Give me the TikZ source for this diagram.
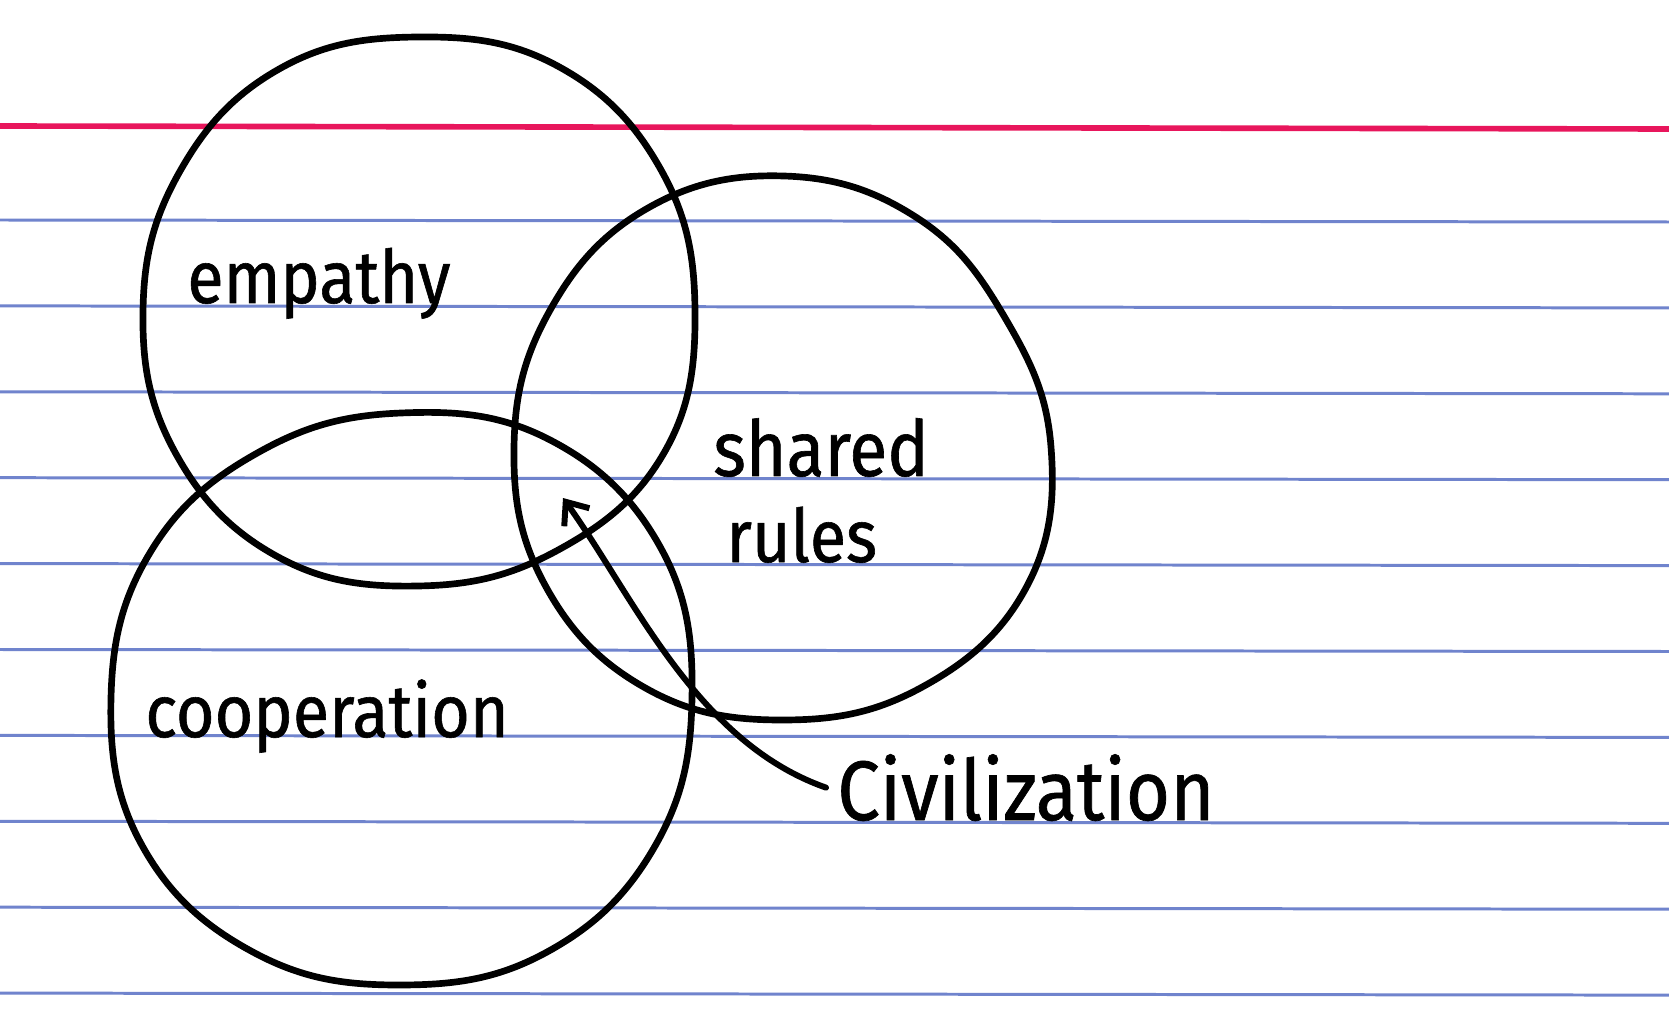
\documentclass[tikz,border=0pt]{standalone}
\usepackage{fontspec}
\setmainfont{Fira Sans}[FakeStretch=0.9,FakeBold=0.8]
\usetikzlibrary{arrows.meta}
\pgfdeclarelayer{background layer}
\pgfsetlayers{background layer,main}
\definecolor{ruleblue}{RGB}{112,132,205}
\definecolor{marginred}{RGB}{232,22,92}
\tikzstyle{ring}=[black,line width=3.8pt,line join=round]
\tikzstyle{word}=[inner sep=0pt,anchor=base west,font=\fontsize{42}{50}\selectfont]
\tikzstyle{pointer}=[black,line width=3.4pt,line cap=round,-{Straight Barb[length=0.38cm,width=0.62cm]}]
\tikzstyle{ruled}=[ruleblue,line width=1.7pt]
\tikzstyle{margin}=[marginred,line width=3.2pt]

\begin{document}
\begin{tikzpicture}[x=0.02cm,y=-0.02cm]
	\useasboundingbox (0,0) rectangle (1669,1016);

	\begin{pgfonlayer}{background layer}
		\fill[white] (0,0) rectangle (1669,1016);
		\draw[margin] (0,126) -- (1669,129);
		\foreach \k in {0,...,9}
			\draw[ruled] (0,220+85.9*\k) -- (1669,222+85.9*\k);
	\end{pgfonlayer}

	% empathy
	\draw[ring,shift={(418,311)}] plot[smooth cycle,tension=0.69] coordinates {(0:277) (30:284) (60:277) (90:275) (120:283) (150:281) (180:275) (210:276) (240:279) (270:274) (300:282) (330:281)};
	% shared rules
	\draw[ring,shift={(784,447)}] plot[smooth cycle,tension=0.69] coordinates {(0:267) (30:280) (60:277) (90:273) (120:278) (150:276) (180:270) (210:271) (240:275) (270:271) (300:265) (330:256)};
	% cooperation
	\draw[ring,shift={(401,698)}] plot[smooth cycle,tension=0.69] coordinates {(0:291) (30:294) (60:293) (90:287) (120:294) (150:298) (180:290) (210:290) (240:284) (270:285) (300:298) (330:300)};

	\node (emp) at (187,303) [word] {empathy};
	\node (shr) at (713,476) [word,font=\fontsize{44}{50}\selectfont] {shared};
	\node (rul) at (726,562) [word] {rules};
	\node (coop) at (145,737) [word] {cooperation};
	\node (civ) at (826,820) [word,inner xsep=0.22cm,font=\fontsize{48}{56}\selectfont] {Civilization};
	\coordinate (tip) at (563,498);

	\draw[pointer] (civ.west) .. controls (696,742) and (634,597) .. (tip);
\end{tikzpicture}
\end{document}
